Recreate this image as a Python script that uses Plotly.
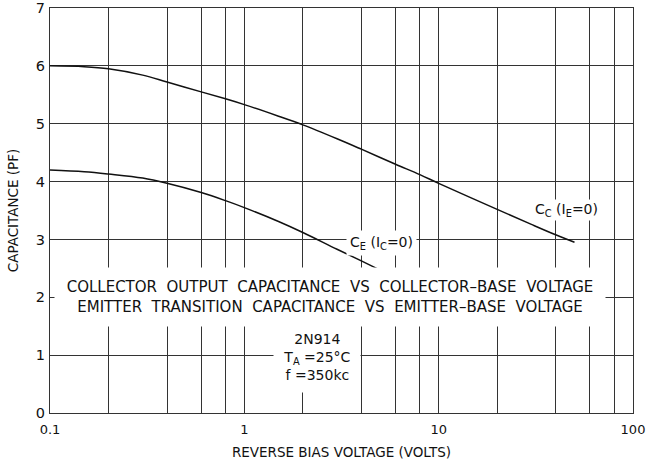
import math
import plotly.graph_objects as go

# Reverse bias voltage (V) and capacitance (pF) for the two junctions
cc_volts = [0.1, 0.15, 0.2, 0.3, 0.4, 0.6, 0.8, 1, 1.5, 2, 3, 4, 6, 8, 10, 20, 30, 40, 50]
cc_pf = [6.0, 5.985, 5.95, 5.84, 5.72, 5.55, 5.43, 5.33, 5.13, 4.98, 4.74, 4.56, 4.30, 4.12, 3.97, 3.52, 3.26, 3.08, 2.95]

ce_volts = [0.1, 0.15, 0.2, 0.3, 0.4, 0.6, 0.8, 1, 1.5, 2, 3, 4, 5]
ce_pf = [4.20, 4.17, 4.13, 4.06, 3.97, 3.81, 3.67, 3.55, 3.31, 3.12, 2.83, 2.63, 2.47]

# Grid positions and labels
x_grid = [0.1, 0.2, 0.4, 0.6, 0.8, 1, 2, 4, 6, 8, 10, 20, 40, 60, 80, 100]
x_labels = {0.1: "0.1", 1: "1", 10: "10", 100: "100"}
y_grid = [0, 1, 2, 3, 4, 5, 6, 7]

FONT = "DejaVu Sans"
INK = "#111111"
GRID = "#333333"

fig = go.Figure()
for xs, ys in ((cc_volts, cc_pf), (ce_volts, ce_pf)):
    fig.add_trace(go.Scatter(x=xs, y=ys, mode="lines",
                             line=dict(color=INK, width=1.5, shape="spline", smoothing=1.0),
                             hoverinfo="skip"))

fig.update_layout(
    width=647, height=464,
    margin=dict(l=50, r=14, t=8, b=51),
    paper_bgcolor="white", plot_bgcolor="white",
    showlegend=False,
    font=dict(family=FONT, color=INK),
)

fig.update_xaxes(
    type="log", range=[-1, 2], automargin=False, ticklabeloverflow="allow",
    tickmode="array", tickvals=x_grid,
    ticktext=[x_labels.get(v, "") for v in x_grid],
    tickfont=dict(size=13, family=FONT, color=INK),
    showgrid=True, gridcolor=GRID, gridwidth=1,
    showline=True, linecolor=GRID, linewidth=1, mirror=True,
    ticks="", zeroline=False, ticklabelstandoff=4,
    title=dict(text="REVERSE BIAS VOLTAGE (VOLTS)", font=dict(size=13.5, family=FONT, color=INK), standoff=11),
)
fig.update_yaxes(
    range=[0, 7], automargin=False, ticklabeloverflow="allow",
    tickmode="array", tickvals=y_grid,
    ticktext=[str(v) for v in y_grid],
    tickfont=dict(size=14.5, family=FONT, color=INK),
    showgrid=True, gridcolor=GRID, gridwidth=1,
    showline=True, linecolor=GRID, linewidth=1, mirror=True,
    ticks="", zeroline=False, ticklabelstandoff=1,
    title=dict(text="CAPACITANCE (PF)", font=dict(size=13.5, family=FONT, color=INK), standoff=14),
)

# Curve labels (log axis: annotation x is given in decades)
fig.add_annotation(x=math.log10(5.05), y=2.94, xref="x", yref="y", xanchor="center", yanchor="middle",
                   text="C<sub>E</sub> (I<sub>C</sub>=0)", showarrow=False,
                   font=dict(size=14, family=FONT, color=INK), bgcolor="white", borderpad=3)
fig.add_annotation(x=math.log10(45.3), y=3.51, xref="x", yref="y", xanchor="center", yanchor="middle",
                   text="C<sub>C</sub> (I<sub>E</sub>=0)", showarrow=False,
                   font=dict(size=14, family=FONT, color=INK), bgcolor="white", borderpad=1)

# Chart description block
fig.add_annotation(x=0.481, y=2.0, xref="paper", yref="y", xanchor="center", yanchor="middle",
                   text="COLLECTOR  OUTPUT  CAPACITANCE  VS  COLLECTOR\u2013BASE  VOLTAGE<br>"
                        "EMITTER  TRANSITION  CAPACITANCE  VS  EMITTER\u2013BASE  VOLTAGE",
                   showarrow=False, width=548, height=56,
                   font=dict(size=15, family=FONT, color=INK), bgcolor="white")

# Device and test conditions
fig.add_annotation(x=0.458, y=0.97, xref="paper", yref="y", xanchor="center", yanchor="middle",
                   text="2N914<br>T<sub>A</sub> =25\u00b0C<br>f =350kc",
                   showarrow=False, width=84, height=68,
                   font=dict(size=14, family=FONT, color=INK), bgcolor="white")

fig.write_html("out.html")
